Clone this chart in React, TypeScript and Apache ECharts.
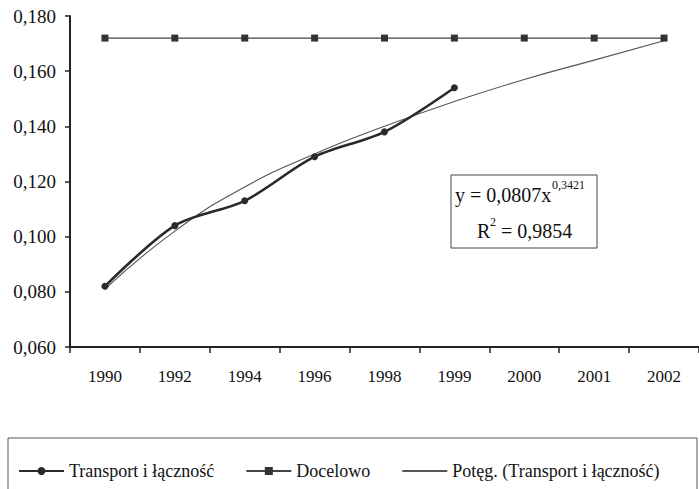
import React, { useEffect, useRef } from "react";
import * as echarts from "echarts";

const years = ["1990", "1992", "1994", "1996", "1998", "1999", "2000", "2001", "2002"];
const transport = [0.082, 0.104, 0.113, 0.129, 0.138, 0.154, null, null, null];
const docelowo = [0.172, 0.172, 0.172, 0.172, 0.172, 0.172, 0.172, 0.172, 0.172];
const trend = [0.081, 0.102, 0.118, 0.130, 0.140, 0.149, 0.157, 0.164, 0.171];
const yMin = 0.06;
const yMax = 0.18;
const yStep = 0.02;

const FONT = "Liberation Serif";
const INK = "#111";

export default function App() {
  const ref = useRef<HTMLDivElement>(null);
  useEffect(() => {
    if (!ref.current) return;
    const chart = echarts.init(ref.current, undefined, { renderer: "svg" });
    chart.setOption({
      animation: false,
      backgroundColor: "#ffffff",
      textStyle: { fontFamily: FONT, color: INK },
      grid: { left: 70, right: 0, top: 16, bottom: 142 },
      xAxis: {
        type: "category",
        data: years,
        boundaryGap: true,
        axisLine: { lineStyle: { color: "#222", width: 2 } },
        axisTick: { show: true, interval: 0, length: 6, lineStyle: { color: "#222", width: 1.5 } },
        axisLabel: { interval: 0, margin: 21, fontFamily: FONT, fontSize: 17, color: INK },
        splitLine: { show: false },
      },
      yAxis: {
        type: "value",
        min: yMin,
        max: yMax,
        interval: yStep,
        axisLine: { show: true, lineStyle: { color: "#222", width: 2 } },
        axisTick: { show: true, length: 5, lineStyle: { color: "#222", width: 1.5 } },
        axisLabel: {
          margin: 14,
          fontFamily: FONT,
          fontSize: 19,
          color: INK,
          formatter: (v: number) => v.toFixed(3).replace(".", ","),
        },
        splitLine: { show: false },
      },
      legend: {
        left: 13,
        top: 457,
        itemWidth: 45,
        itemHeight: 10,
        itemGap: 31,
        textStyle: { fontFamily: FONT, fontSize: 18, color: INK },
        data: [
          { name: "Transport i łączność" },
          { name: "Docelowo" },
          { name: "Potęg. (Transport i łączność)", itemStyle: { opacity: 0, borderWidth: 0 } },
        ],
      },
      series: [
        {
          name: "Potęg. (Transport i łączność)",
          type: "line",
          data: trend,
          smooth: true,
          symbol: "none",
          lineStyle: { color: "#555", width: 1.1 },
          itemStyle: { color: "#555" },
          z: 2,
        },
        {
          name: "Docelowo",
          type: "line",
          data: docelowo,
          symbol: "rect",
          symbolSize: 7,
          lineStyle: { color: "#444", width: 1.2 },
          itemStyle: { color: "#333" },
          z: 3,
        },
        {
          name: "Transport i łączność",
          type: "line",
          data: transport,
          smooth: 0.3,
          symbol: "circle",
          symbolSize: 7,
          lineStyle: { color: "#2a2a2a", width: 2.6 },
          itemStyle: { color: "#2a2a2a" },
          z: 4,
        },
      ],
      graphic: [
        {
          type: "rect",
          shape: { x: 451, y: 175, width: 146, height: 73 },
          style: { fill: "#fff", stroke: "#444", lineWidth: 1 },
          z: 10,
        },
        {
          type: "text",
          x: 455,
          y: 195,
          style: { text: "y = 0,0807x", font: `20px '${FONT}'`, fill: INK, verticalAlign: "middle" },
          z: 11,
        },
        {
          type: "text",
          x: 552,
          y: 185,
          style: { text: "0,3421", font: `12px '${FONT}'`, fill: INK, verticalAlign: "middle" },
          z: 11,
        },
        {
          type: "text",
          x: 477,
          y: 231,
          style: { text: "R", font: `20px '${FONT}'`, fill: INK, verticalAlign: "middle" },
          z: 11,
        },
        {
          type: "text",
          x: 490,
          y: 222,
          style: { text: "2", font: `12px '${FONT}'`, fill: INK, verticalAlign: "middle" },
          z: 11,
        },
        {
          type: "text",
          x: 496,
          y: 231,
          style: { text: " = 0,9854", font: `20px '${FONT}'`, fill: INK, verticalAlign: "middle" },
          z: 11,
        },
        {
          type: "rect",
          shape: { x: 8, y: 438, width: 689, height: 70 },
          style: { fill: "none", stroke: "#555", lineWidth: 1 },
          z: 1,
        },
      ],
    });
    return () => chart.dispose();
  }, []);
  return (
    <div style={{ position: "fixed", left: 0, top: 0, width: 699, height: 489, background: "#fff" }}>
      <div ref={ref} style={{ width: 699, height: 489 }} />
    </div>
  );
}
